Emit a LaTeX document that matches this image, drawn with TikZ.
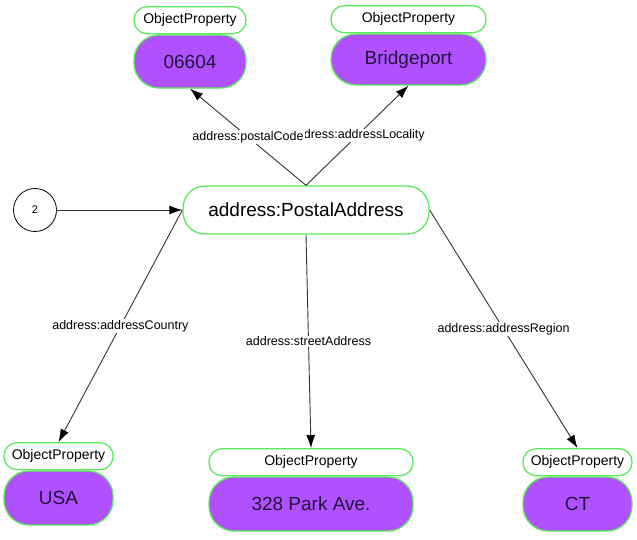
\documentclass[tikz,border=0pt]{standalone}
\usepackage{fontspec}
\setmainfont{Liberation Sans}
\usetikzlibrary{positioning,arrows.meta}
\definecolor{nodegreen}{RGB}{90,235,90}
\definecolor{valpurple}{RGB}{176,80,255}
\definecolor{valtext}{RGB}{35,20,60}
\tikzset{
  valbox/.style={draw=nodegreen, line width=1.3pt, fill=valpurple, rounded corners=25pt, minimum height=53pt, inner sep=0pt, text=valtext, font=\fontsize{19}{21}\selectfont},
  typebox/.style={draw=nodegreen, line width=1.3pt, fill=white, rounded corners=13pt, minimum height=27pt, inner sep=0pt, font=\fontsize{14}{16}\selectfont},
  classbox/.style={draw=nodegreen, line width=1.3pt, fill=white, rounded corners=22pt, minimum height=48pt, inner sep=0pt, font=\fontsize{19}{22}\selectfont},
  rel/.style={draw=black!80, line width=0.9pt, -{Latex[length=13pt,width=9pt,color=black]}},
  rellabel/.style={fill=white, inner sep=1pt, font=\fontsize{12.5}{14}\selectfont},
}
\begin{document}
\begin{tikzpicture}[x=1pt,y=-1pt]
\useasboundingbox (0,0) rectangle (637,539);
% blank node and the address class
\node[circle, draw, line width=0.8pt, minimum size=43pt, inner sep=0pt, font=\fontsize{11}{12}\selectfont] (blank) at (35,210) {2};
\node[classbox, minimum width=246pt] (pa) at (306,210) {address:PostalAddress};
% values with their type boxes
\node[valbox, minimum width=112pt] (v06604) at (190,61.5) {06604};
\node[typebox, minimum width=112pt, above=0pt of v06604] (t06604) {ObjectProperty};
\node[valbox, minimum width=155pt, minimum height=51pt] (vbridge) at (408.5,59.5) {Bridgeport};
\node[typebox, minimum width=155pt, above=0pt of vbridge] (tbridge) {ObjectProperty};
\node[valbox, minimum width=109pt, minimum height=54pt] (vusa) at (58.5,498) {USA};
\node[typebox, minimum width=109pt, above=0pt of vusa] (tusa) {ObjectProperty};
\node[valbox, minimum width=204pt, minimum height=54pt] (vpark) at (311,504) {328 Park Ave.};
\node[typebox, minimum width=204pt, above=0pt of vpark] (tpark) {ObjectProperty};
\node[valbox, minimum width=109pt, minimum height=54pt] (vct) at (577.5,504) {CT};
\node[typebox, minimum width=109pt, above=0pt of vct] (tct) {ObjectProperty};
% properties
\draw[rel] (blank) -- (pa);
\draw[rel] (pa.north) -- node[rellabel, xshift=7pt] {dress:addressLocality} (vbridge.south);
\draw[rel] (pa.north) -- node[rellabel] {address:postalCode} (v06604.south);
\draw[rel] (pa.west) -- node[rellabel] {address:addressCountry} (tusa.north);
\draw[rel] (pa.south) -- node[rellabel] {address:streetAddress} (tpark.north);
\draw[rel] (pa.east) -- node[rellabel] {address:addressRegion} (tct.north);
\end{tikzpicture}
\end{document}
